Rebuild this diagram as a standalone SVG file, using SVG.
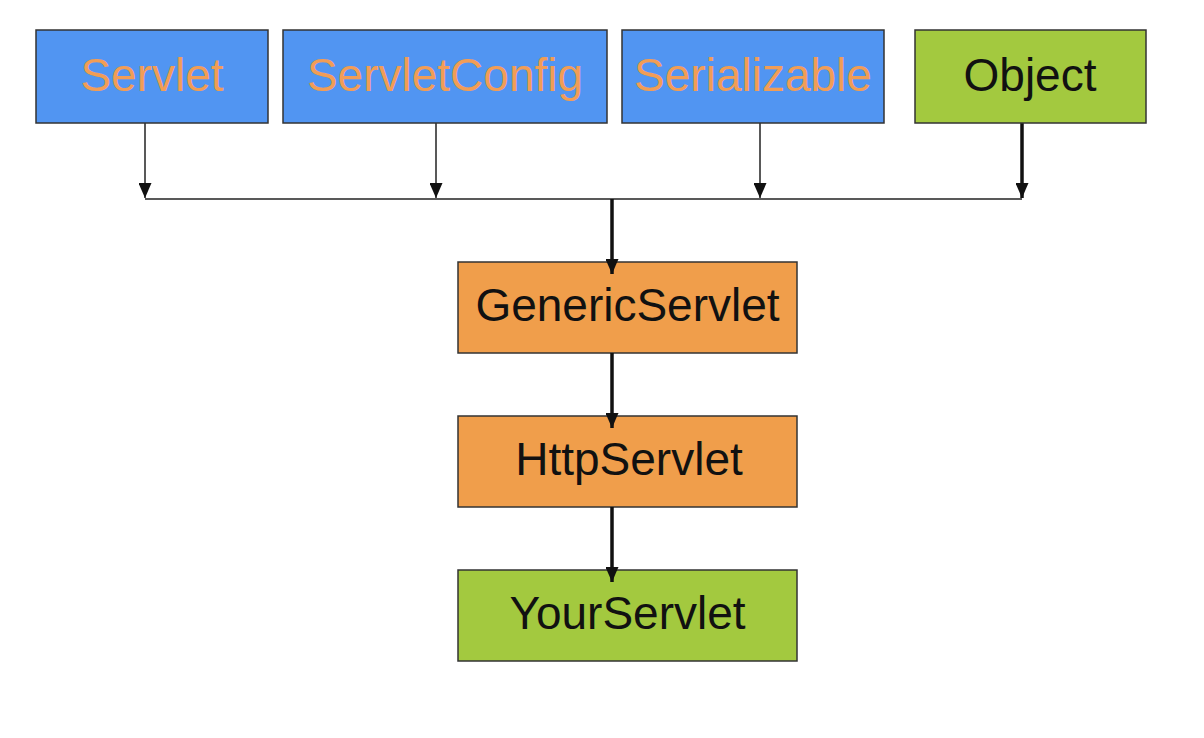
<svg xmlns="http://www.w3.org/2000/svg" width="1204" height="738" viewBox="0 0 1204 738">
<style>
.box{stroke:#333;stroke-width:1.5}
.blue{fill:#5195f2}
.orange{fill:#f09e4b}
.green{fill:#a3c93f}
.t{font-family:"Liberation Sans",Arial,sans-serif;font-size:46px;text-anchor:middle}
.tb{fill:#111}
.to{fill:#f19d56}
.thin{stroke:#222;stroke-width:1.5;fill:none}
.thick{stroke:#111;stroke-width:3.5;fill:none}
</style>
<defs>
<marker id="ahd" markerUnits="userSpaceOnUse" viewBox="0 0 15 13" refX="15" refY="6.5" markerWidth="15" markerHeight="13" orient="auto">
<path d="M0,0 L15,6.5 L0,13 Z" fill="#111"/>
</marker>
</defs>
<g id="connectors">
<line class="thin" x1="145" y1="199" x2="1022" y2="199"/>
<line class="thin" x1="145" y1="123" x2="145" y2="198" marker-end="url(#ahd)"/>
<line class="thin" x1="436" y1="123" x2="436" y2="198" marker-end="url(#ahd)"/>
<line class="thin" x1="760" y1="123" x2="760" y2="198" marker-end="url(#ahd)"/>
<line class="thick" x1="1022" y1="123" x2="1022" y2="198" marker-end="url(#ahd)"/>
</g>
<g id="servlet"><rect class="box blue" x="36" y="30" width="232" height="93"/><text class="t to" x="152" y="91">Servlet</text></g>
<g id="servletconfig"><rect class="box blue" x="283" y="30" width="324" height="93"/><text class="t to" x="445" y="91">ServletConfig</text></g>
<g id="serializable"><rect class="box blue" x="622" y="30" width="262" height="93"/><text class="t to" x="753" y="91">Serializable</text></g>
<g id="object"><rect class="box green" x="915" y="30" width="231" height="93"/><text class="t tb" x="1030" y="91">Object</text></g>
<g id="genericservlet"><rect class="box orange" x="458" y="262" width="339" height="91"/><text class="t tb" x="627.5" y="321">GenericServlet</text></g>
<g id="httpservlet"><rect class="box orange" x="458" y="416" width="339" height="91"/><text class="t tb" x="629" y="475">HttpServlet</text></g>
<g id="yourservlet"><rect class="box green" x="458" y="570" width="339" height="91"/><text class="t tb" x="627.5" y="629">YourServlet</text></g>
<g id="connectors2">
<line class="thick" x1="612" y1="199" x2="612" y2="274" marker-end="url(#ahd)"/>
<line class="thick" x1="612" y1="353" x2="612" y2="428" marker-end="url(#ahd)"/>
<line class="thick" x1="612" y1="507" x2="612" y2="582" marker-end="url(#ahd)"/>
</g>
</svg>
